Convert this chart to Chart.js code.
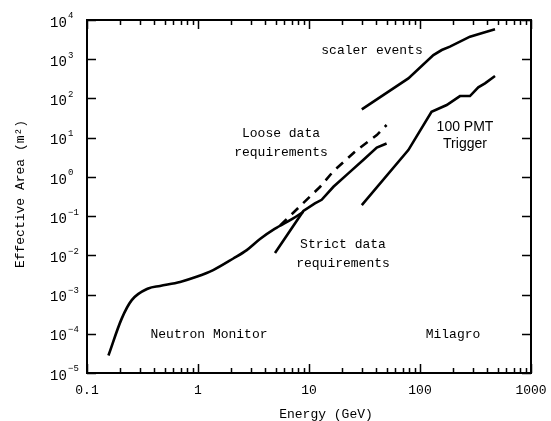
<!DOCTYPE html>
<html>
<head>
<meta charset="utf-8">
<script src="https://cdn.jsdelivr.net/npm/chart.js@4"></script>
<style>
	body{ margin:0; background:#fff; }
	canvas{ display:block; }
</style>
</head>
<body>
<canvas id="chart" width="551" height="421"></canvas>
<script>
// energies in GeV, effective area in m^2
const neutronE = [0.156, 0.205, 0.253, 0.356, 0.455, 0.69, 0.97, 1.37, 2.08, 2.75, 3.62, 4.9, 7.2, 8.9];
const neutronA = [2.8e-5, 2.4e-4, 7.2e-4, 1.43e-3, 1.66e-3, 2.1e-3, 2.83e-3, 4.2e-3, 8.3e-3, 1.36e-2, 2.6e-2, 4.7e-2, 8.7e-2, 0.129];
const strictE = [4.94, 8.9, 11.3, 13, 16.6, 22.6, 30.8, 40.8, 50];
const strictA = [0.0114, 0.135, 0.21, 0.26, 0.56, 1.23, 2.7, 5.6, 7.1];
const looseE = [5.5, 12.6, 16.6, 26.9, 40.8, 50];
const looseA = [0.058, 0.56, 1.4, 4.8, 11.6, 21];
const scalerE = [29.9, 78.5, 132, 157, 186, 282, 371, 474];
const scalerA = [52.7, 325, 1280, 1717, 2090, 3750, 4750, 5780];
const triggerE = [29.9, 78.5, 127, 174, 229, 282, 335, 385, 474];
const triggerA = [0.19, 4.83, 45.8, 68, 115, 115, 192, 243, 373];

const xTickValues = [0.1, 1, 10, 100, 1000];
const xTickLabels = ['0.1', '1', '10', '100', '1000'];
const yExponents = [-5, -4, -3, -2, -1, 0, 1, 2, 3, 4];

const MONO = "'Courier New', 'Liberation Mono', monospace";

const pts = (xs, ys) => xs.map((x, i) => ({ x, y: ys[i] }));
const curve = (label, xs, ys, opts) => Object.assign({
	label,
	data: pts(xs, ys),
	borderColor: '#000',
	borderWidth: 2.6,
	pointRadius: 0,
	tension: 0,
	fill: false
}, opts || {});

// frame, inward ticks and all the text
const decorations = {
	id: 'decorations',
	afterDraw(chart){
		const ctx = chart.ctx;
		const a = chart.chartArea;
		const xs = chart.scales.x, ys = chart.scales.y;
		ctx.save();
		ctx.strokeStyle = '#000';
		ctx.lineWidth = 2;
		ctx.strokeRect(a.left, a.top, a.right - a.left, a.bottom - a.top);

		ctx.lineWidth = 1.5;
		ctx.beginPath();
		for(let d = -1; d <= 3; d++){
			for(let m = 1; m <= 9; m++){
				const v = m * Math.pow(10, d);
				if(v > 1000) break;
				const px = Math.round(xs.getPixelForValue(v)) + 0.5;
				const len = m === 1 ? 9 : 5;
				ctx.moveTo(px, a.bottom); ctx.lineTo(px, a.bottom - len);
				ctx.moveTo(px, a.top); ctx.lineTo(px, a.top + len);
			}
		}
		yExponents.forEach(e => {
			const py = Math.round(ys.getPixelForValue(Math.pow(10, e))) + 0.5;
			ctx.moveTo(a.left, py); ctx.lineTo(a.left + 9, py);
			ctx.moveTo(a.right, py); ctx.lineTo(a.right - 9, py);
		});
		ctx.stroke();

		ctx.fillStyle = '#000';
		// y tick labels: 10 with a raised exponent
		ctx.textBaseline = 'middle';
		ctx.textAlign = 'left';
		yExponents.forEach(e => {
			const py = ys.getPixelForValue(Math.pow(10, e));
			ctx.font = '14px ' + MONO;
			ctx.fillText('10', 50, py + 3);
			ctx.font = '9px ' + MONO;
			ctx.fillText(String(e).replace('-', '\u2212'), 68, py - 4);
		});
		// x tick labels
		ctx.textAlign = 'center';
		ctx.font = '13px ' + MONO;
		xTickValues.forEach((v, i) => {
			ctx.fillText(xTickLabels[i], xs.getPixelForValue(v), 391);
		});
		ctx.fillText('Energy (GeV)', 326, 415);

		// curve labels
		const labels = [
			['scaler events', 372, 51],
			['Loose data', 281, 134],
			['requirements', 281, 153],
			['Strict data', 343, 245],
			['requirements', 343, 264],
			['Neutron Monitor', 209, 335],
			['Milagro', 453, 335]
		];
		labels.forEach(([t, x, y]) => ctx.fillText(t, x, y));
		ctx.font = "14px 'Liberation Sans', Arial, sans-serif";
		ctx.fillText('100 PMT', 465, 127);
		ctx.fillText('Trigger', 465, 144);

		// y axis title
		ctx.translate(21, 194);
		ctx.rotate(-Math.PI / 2);
		ctx.font = '13px ' + MONO;
		ctx.fillText('Effective Area (m\u00b2)', 0, 0);
		ctx.restore();
	}
};

new Chart(document.getElementById('chart'), {
	type: 'line',
	data: {
		datasets: [
			curve('Neutron Monitor', neutronE, neutronA, { cubicInterpolationMode: 'monotone' }),
			curve('Strict data requirements', strictE, strictA),
			curve('Loose data requirements', looseE, looseA, { borderDash: [9, 7] }),
			curve('scaler events', scalerE, scalerA),
			curve('100 PMT Trigger', triggerE, triggerA)
		]
	},
	options: {
		responsive: false,
		animation: false,
		devicePixelRatio: 1,
		layout: { padding: { top: 20, right: 20, left: 0, bottom: 0 } },
		plugins: {
			legend: { display: false },
			tooltip: { enabled: false }
		},
		scales: {
			x: {
				type: 'logarithmic',
				min: 0.1,
				max: 1000,
				ticks: { display: false },
				grid: { display: false },
				border: { display: false },
				afterFit: s => { s.height = 48; }
			},
			y: {
				type: 'logarithmic',
				min: 1e-5,
				max: 1e4,
				ticks: { display: false },
				grid: { display: false },
				border: { display: false },
				afterFit: s => { s.width = 87; }
			}
		}
	},
	plugins: [decorations]
});
</script>
</body>
</html>
